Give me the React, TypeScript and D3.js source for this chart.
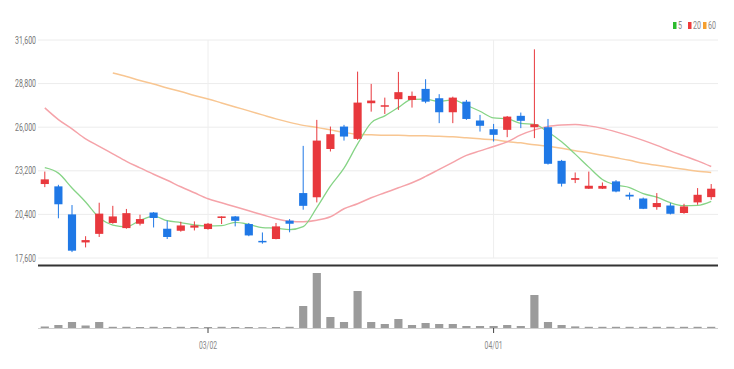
import React from "react";
import * as d3 from "d3";

const dates = [
  "02/11","02/14","02/15","02/16","02/17","02/18","02/21","02/22","02/23","02/24","02/25","02/28",
  "03/02","03/03","03/04","03/07","03/08","03/10","03/11","03/14","03/15","03/16","03/17","03/18",
  "03/21","03/22","03/23","03/24","03/25","03/28","03/29","03/30","03/31",
  "04/01","04/04","04/05","04/06","04/07","04/08","04/11","04/12","04/13","04/14","04/15",
  "04/18","04/19","04/20","04/21","04/22","04/25"
];
const opens = [22350,22200,20400,18600,19150,19850,19520,19800,20520,19480,19350,19550,19460,20170,20270,19780,18700,18820,20000,21770,21500,24600,26040,25250,27540,27320,27800,27750,28460,27860,26960,27640,26430,25870,25830,26730,26000,26000,23840,22620,22050,22050,22520,21660,21420,20870,20970,20490,21170,21510];
const highs = [23150,22300,21000,19000,21150,20950,20750,20380,20550,20000,19930,19950,19850,20280,20300,19850,19240,19850,20100,24800,26470,26040,26150,29570,28780,27900,29550,28290,29080,28120,27960,27750,26790,26210,26720,26940,31000,26530,23900,23090,23150,22450,22600,21810,21480,21770,21130,21080,22090,22350];
const lows = [22150,20150,17980,18280,18950,19800,19480,19690,19560,18820,19290,19370,19420,19780,19630,19000,18520,18800,19250,20700,21170,24440,25140,25190,27000,26850,27110,27260,27540,26260,26260,26470,25720,25080,25360,25940,25300,23600,22190,22410,22030,22030,21820,21340,20740,20700,20400,20440,21020,21340];
const closes = [22650,21050,18070,18750,20450,20270,20480,20100,20170,18950,19690,19690,19800,20270,19990,19050,18650,19630,19800,20950,25140,25550,25400,27580,27710,27410,28250,28010,27640,26960,27900,26530,26090,25510,26680,26410,26190,23650,22370,22730,22240,22230,21870,21550,20760,21130,20440,20910,21660,22050];
const volumes = [75000,150000,300000,125000,300000,60000,60000,50000,60000,50000,60000,50000,50000,60000,50000,50000,40000,50000,60000,1100000,2750000,550000,300000,1850000,300000,200000,450000,150000,250000,200000,200000,100000,100000,100000,150000,100000,1650000,300000,150000,80000,60000,60000,60000,60000,60000,60000,60000,60000,60000,60000];
const ma5 = [23400,23050,22100,21200,20194,19718,19604,20010,20294,19994,19878,19720,19660,19680,19888,19760,19552,19518,19424,19616,20834,22214,23368,24924,26276,26730,27270,27792,27804,27654,27752,27408,27024,26598,26542,26244,26176,25688,25060,24270,23436,22644,22288,22124,21730,21508,21150,20958,20980,21238];
const ma20 = [27239,26489,25892,25251,24770,24289,23808,23391,22975,22590,22173,21788,21403,21147,20890,20634,20377,20121,19960,19928,20024,20249,20762,21083,21467,21788,22109,22429,22840,23290,23740,24190,24480,24760,25059,25508,25828,26053,26149,26181,26085,25924,25700,25444,25155,24834,24482,24161,23840,23475];
const ma60 = [null,null,null,null,null,29484,29259,29003,28778,28522,28297,28041,27816,27560,27303,27047,26790,26534,26309,26117,25989,25828,25668,25540,25508,25476,25476,25444,25444,25411,25379,25315,25251,25187,25078,24995,24866,24770,24642,24482,24353,24193,24033,23872,23680,23552,23423,23295,23167,23090];
const yTicks = [17600, 20400, 23200, 26000, 28800, 31600];
const xTickLabels = ["03/02", "04/01"];
const legendLabels = ["5", "20", "60"];

const UP = "#e8383d";
const DOWN = "#1f78e6";
const MA_COLORS = ["#86d486", "#f5a3a9", "#f8c692"];
const LEGEND_COLORS = ["#2dbb2d", "#ee3b3b", "#f5a030"];

export default function App() {
  const W = 734, H = 369;
  const x = d3.scaleBand<string>().domain(dates).range([38, 718]).padding(0);
  const y = d3.scaleLinear().domain([17600, 31600]).range([258, 40]);
  const vy = d3.scaleLinear().domain([0, d3.max(volumes) as number]).range([328, 273]);
  const bw = x.bandwidth() * 0.6;
  const cx = (i: number) => (x(dates[i]) as number) + x.bandwidth() / 2;

  const mkLine = (arr: (number | null)[]) =>
    d3.line<number | null>()
      .defined((d) => d !== null)
      .x((_, i) => cx(i))
      .y((d) => y(d as number))
      .curve(d3.curveMonotoneX)(arr) || "";

  const fmt = d3.format(",");

  return (
    <svg width={W} height={H} style={{ position: "absolute", left: 0, top: 0, background: "#fff" }}
      fontFamily="Roboto, 'Liberation Sans', sans-serif">
      {/* grid */}
      {yTicks.map((t) => (
        <line key={t} x1={38} x2={718} y1={y(t)} y2={y(t)} stroke="#ececec" strokeWidth={1} />
      ))}
      {xTickLabels.map((l) => (
        <line key={l} x1={cx(dates.indexOf(l))} x2={cx(dates.indexOf(l))} y1={40} y2={258} stroke="#eeeeee" strokeWidth={1} />
      ))}
      {/* y labels */}
      {yTicks.map((t) => (
        <text key={t} x={36} y={y(t) + 3.5} textAnchor="end" fontSize={10} fill="#777"
          textLength={fmt(t).length * 3.5} lengthAdjust="spacingAndGlyphs">{fmt(t)}</text>
      ))}
      {/* MA lines */}
      <path d={mkLine(ma60)} fill="none" stroke={MA_COLORS[2]} strokeWidth={1.5} />
      <path d={mkLine(ma20)} fill="none" stroke={MA_COLORS[1]} strokeWidth={1.5} />
      <path d={mkLine(ma5)} fill="none" stroke={MA_COLORS[0]} strokeWidth={1.3} />
      {/* candles */}
      {dates.map((d, i) => {
        const up = closes[i] >= opens[i];
        const c = up ? UP : DOWN;
        const top = y(Math.max(opens[i], closes[i]));
        const bot = y(Math.min(opens[i], closes[i]));
        return (
          <g key={d}>
            <line x1={cx(i)} x2={cx(i)} y1={y(highs[i])} y2={y(lows[i])} stroke={c} strokeWidth={1} />
            <rect x={cx(i) - bw / 2} y={top} width={bw} height={Math.max(bot - top, 1.5)} fill={c} />
          </g>
        );
      })}
      {/* separator */}
      <line x1={38} x2={718} y1={265.5} y2={265.5} stroke="#333" strokeWidth={2} />
      {/* volume */}
      <line x1={38} x2={718} y1={328.5} y2={328.5} stroke="#cfcfcf" strokeWidth={1} />
      {dates.map((d, i) => (
        <rect key={d} x={cx(i) - bw / 2} y={vy(volumes[i])} width={bw} height={328 - vy(volumes[i])} fill="#9b9b9b" />
      ))}
      {xTickLabels.map((l) => {
        const xx = cx(dates.indexOf(l));
        return (
          <g key={l}>
            <line x1={xx} x2={xx} y1={328} y2={333} stroke="#444" strokeWidth={1} />
            <text x={xx} y={349} textAnchor="middle" fontSize={11} fill="#888"
              textLength={18} lengthAdjust="spacingAndGlyphs">{l}</text>
          </g>
        );
      })}
      {/* legend */}
      {legendLabels.map((l, i) => {
        const lx = [673, 688, 703][i];
        return (
          <g key={l}>
            <rect x={lx} y={22} width={3.5} height={7} fill={LEGEND_COLORS[i]} />
            <text x={lx + 5} y={29} fontSize={10} fill="#888"
              textLength={l.length * 4} lengthAdjust="spacingAndGlyphs">{l}</text>
          </g>
        );
      })}
    </svg>
  );
}
